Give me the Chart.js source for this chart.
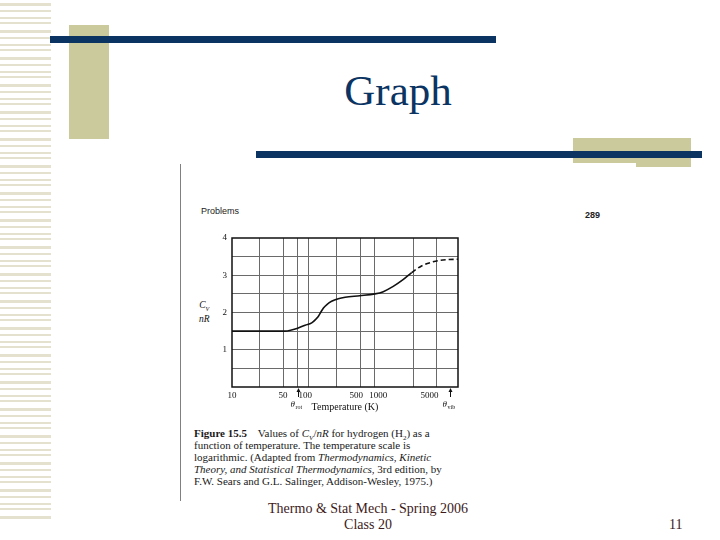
<!DOCTYPE html>
<html>
<head>
<meta charset="utf-8">
<script src="https://cdn.jsdelivr.net/npm/chart.js@4.4.1/dist/chart.umd.min.js"></script>
<style>
  html, body { margin: 0; padding: 0; background: #fff; }
  body { width: 720px; height: 540px; position: relative; overflow: hidden; font-family: 'Liberation Serif', serif; }
  .abs { position: absolute; }
  /* slide template decorations */
  #stripes {
    left: 0; top: 3px; width: 51px; height: 520px;
    background: repeating-linear-gradient(180deg,
      #e4e2cf 0px, #e4e2cf 3px, #fff 3px, #fff 7px,
      #e4e2cf 7px, #e4e2cf 9px, #fff 9px, #fff 14px,
      #e4e2cf 14px, #e4e2cf 16px, #fff 16px, #fff 19px,
      #e4e2cf 19px, #e4e2cf 21px, #fff 21px, #fff 27px);
  }
  .beige { background: #cbca9c; }
  .navy { background: #0b3463; }
  #title { left: 0; width: 796px; top: 66px; text-align: center; font-size: 43px; color: #0b3463; }
  #scanEdge { left: 180px; top: 164px; width: 1px; height: 337px; background: #808080; }
  #problems { left: 201px; top: 206px; font: 9px 'Liberation Sans', sans-serif; color: #222; }
  #pageNo { left: 585px; top: 210px; font: bold 9px 'Liberation Sans', sans-serif; color: #222; }
  #ytitle { left: 199px; top: 300px; font: italic 9.5px 'Liberation Serif', serif; color: #111; line-height: 10px; text-align: center; }
  #ytitle sub { font-size: 6px; }
  #caption { left: 194px; top: 427px; width: 280px; font-family: 'Liberation Serif', serif; font-size: 11px; line-height: 12.1px; color: #1a1a1a; white-space: nowrap; }
  #caption i { font-family: 'Liberation Serif', serif; }
  #caption sub { font-size: 7px; line-height: 0; }
  #footer { left: 230px; top: 501px; width: 276px; text-align: center; font-size: 14px; line-height: 16px; color: #3d1a1a; }
  #slideNo { left: 669px; top: 517px; font-size: 14px; color: #3d1a1a; }
  #chart { position: absolute; left: 0; top: 0; }
</style>
</head>
<body>
<div id="stripes" class="abs"></div>
<div class="abs beige" style="left:69px;top:25px;width:40px;height:114px;"></div>
<div class="abs beige" style="left:573px;top:138px;width:118px;height:25px;"></div>
<div class="abs beige" style="left:636px;top:160px;width:55px;height:7px;"></div>
<div class="abs navy" style="left:50px;top:36px;width:446px;height:7px;"></div>
<div class="abs navy" style="left:256px;top:151px;width:446px;height:7px;"></div>
<div id="title" class="abs">Graph</div>

<div id="scanEdge" class="abs"></div>
<div id="problems" class="abs">Problems</div>
<div id="pageNo" class="abs">289</div>
<div id="ytitle" class="abs">C<sub>V</sub><br>nR</div>
<div id="caption" class="abs"><b>Figure 15.5</b>&nbsp;&nbsp;&nbsp; Values of <i>C<sub>V</sub></i>/<i>nR</i> for hydrogen (H<sub>2</sub>) as a<br>function of temperature. The temperature scale is<br>logarithmic. (Adapted from <i>Thermodynamics, Kinetic</i><br><i>Theory, and Statistical Thermodynamics,</i> 3rd edition, by<br>F.W. Sears and G.L. Salinger, Addison-Wesley, 1975.)</div>

<div id="footer" class="abs">Thermo &amp; Stat Mech - Spring 2006<br>Class 20</div>
<div id="slideNo" class="abs">11</div>

<canvas id="chart" width="720" height="540"></canvas>

<script>
/* ── Data ─────────────────────────────────────────────────── */
const TEMPS  = [10, 20, 40, 53, 65, 79, 100, 123, 140, 152, 165, 178, 200, 230, 284, 352, 560, 900, 1170, 1600, 2180, 2860, 3900, 5600, 6900, 9000, 12300];
const CV_NR  = [1.5, 1.5, 1.5, 1.5, 1.53, 1.58, 1.66, 1.72, 1.82, 1.9, 2.02, 2.12, 2.22, 2.3, 2.37, 2.41, 2.45, 2.5, 2.56, 2.7, 2.88, 3.07, 3.25, 3.36, 3.4, 3.42, 3.43];
const DASH_FROM = 2700;          // curve is dashed above this temperature

const X_MIN = 10;
const X_MAX = 12300;
const X_LABEL_TICKS = [10, 50, 100, 500, 1000, 5000];
const X_GRID_TICKS  = [24, 51, 79, 110, 270, 580, 880, 3000, 6300];
const Y_LABEL_TICKS = [1, 2, 3, 4];
const Y_GRID_TICKS  = [0.5, 1, 1.5, 2, 2.5, 3, 3.5];

const MARKERS = [
  { value: 79,   sym: 'θ', sub: 'rot' },
  { value: 9600, sym: 'θ', sub: 'vib' },
];

/* ── Theme ────────────────────────────────────────────────── */
const INK   = '#111111';
const GRID  = '#6a6a6a';
const SERIF = "'Liberation Serif', serif";

// Box around the plot plus the θ arrows under the axis
const figurePlugin = {
  id: 'figure',
  afterDraw(chart) {
    const { ctx, chartArea: a, scales } = chart;
    ctx.save();
    ctx.strokeStyle = INK;
    ctx.lineWidth = 1.5;
    ctx.strokeRect(a.left, a.top, a.right - a.left, a.bottom - a.top);

    ctx.fillStyle = INK;
    ctx.lineWidth = 1;
    MARKERS.forEach((m) => {
      const x = Math.round(scales.x.getPixelForValue(m.value)) + 0.5;
      ctx.beginPath();
      ctx.moveTo(x, a.bottom + 10);
      ctx.lineTo(x, a.bottom + 2);
      ctx.stroke();
      ctx.beginPath();
      ctx.moveTo(x, a.bottom + 1);
      ctx.lineTo(x - 2, a.bottom + 5);
      ctx.lineTo(x + 2, a.bottom + 5);
      ctx.closePath();
      ctx.fill();
      ctx.font = `italic 9px ${SERIF}`;
      ctx.textBaseline = 'alphabetic';
      ctx.fillText(m.sym, x - 8, a.bottom + 20);
      ctx.font = `6px ${SERIF}`;
      ctx.fillText(m.sub, x - 3, a.bottom + 22);
    });
    ctx.restore();
  },
};

new Chart(document.getElementById('chart'), {
  type: 'line',
  data: {
    labels: TEMPS,
    datasets: [{
      data: TEMPS.map((t, i) => ({ x: t, y: CV_NR[i] })),
      borderColor: INK,
      borderWidth: 1.6,
      pointRadius: 0,
      fill: false,
      cubicInterpolationMode: 'monotone',
      segment: {
        borderDash: (c) => (c.p0.parsed.x >= DASH_FROM ? [5, 3] : undefined),
      },
    }],
  },
  plugins: [figurePlugin],
  options: {
    responsive: false,
    animation: false,
    layout: { padding: { left: 202, top: 238, right: 262, bottom: 123 } },
    plugins: { legend: { display: false }, tooltip: { enabled: false } },
    scales: {
      x: {
        type: 'logarithmic',
        min: X_MIN,
        max: X_MAX,
        afterBuildTicks: (s) => {
          const vals = [...new Set([...X_LABEL_TICKS, ...X_GRID_TICKS])].sort((a, b) => a - b);
          s.ticks = vals.map((v) => ({ value: v }));
        },
        afterFit: (s) => { s.height = 30; },
        border: { display: false },
        grid: {
          drawTicks: false,
          lineWidth: 1,
          color: (c) => (c.tick && X_GRID_TICKS.includes(c.tick.value) ? GRID : 'transparent'),
        },
        ticks: {
          autoSkip: false,
          maxRotation: 0,
          padding: 3,
          color: INK,
          font: { family: SERIF, size: 9 },
          callback: (v) => (X_LABEL_TICKS.includes(v) ? String(v) : ''),
        },
        title: {
          display: true,
          text: 'Temperature (K)',
          color: INK,
          font: { family: SERIF, size: 10 },
          padding: { top: 0, bottom: 4 },
        },
      },
      y: {
        min: 0,
        max: 4,
        afterBuildTicks: (s) => {
          const vals = [...new Set([0, ...Y_GRID_TICKS, ...Y_LABEL_TICKS])].sort((a, b) => a - b);
          s.ticks = vals.map((v) => ({ value: v }));
        },
        afterFit: (s) => { s.width = 30; },
        border: { display: false },
        grid: {
          drawTicks: false,
          lineWidth: 1,
          color: (c) => (c.tick && Y_GRID_TICKS.includes(c.tick.value) ? GRID : 'transparent'),
        },
        ticks: {
          padding: 5,
          color: INK,
          font: { family: SERIF, size: 9 },
          callback: (v) => (Y_LABEL_TICKS.includes(v) ? String(v) : ''),
        },
      },
    },
  },
});
</script>
</body>
</html>
